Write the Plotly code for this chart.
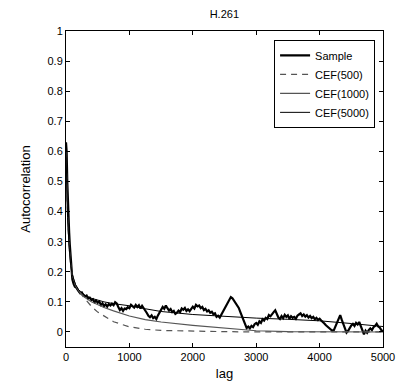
import plotly.graph_objects as go

# ---- data ----
sample_lag_early = [0, 10, 20, 30, 40, 50, 60, 70, 80, 90, 100, 120, 140, 160, 180]
sample_val_early = [0.63, 0.60, 0.50, 0.42, 0.38, 0.33, 0.29, 0.25, 0.21, 0.19, 0.175, 0.16, 0.15, 0.148, 0.14]

sample_lag_rest = list(range(200, 5001, 25))
sample_val_rest = [
    0.135, 0.128, 0.131, 0.122, 0.118, 0.121, 0.111, 0.114, 0.106, 0.109,
    0.099, 0.104, 0.097, 0.101, 0.090, 0.095, 0.086, 0.092, 0.084, 0.093,
    0.088, 0.094, 0.089, 0.099, 0.095, 0.083, 0.073, 0.079, 0.070, 0.078,
    0.076, 0.082, 0.079, 0.090, 0.086, 0.081, 0.090, 0.083, 0.089, 0.078,
    0.087, 0.080, 0.070, 0.063, 0.054, 0.049, 0.055, 0.046, 0.050, 0.043,
    0.055, 0.064, 0.075, 0.083, 0.077, 0.088, 0.079, 0.071, 0.076, 0.066,
    0.070, 0.060, 0.064, 0.071, 0.066, 0.078, 0.074, 0.080, 0.070, 0.075,
    0.069, 0.079, 0.084, 0.078, 0.090, 0.085, 0.088, 0.079, 0.083, 0.073,
    0.077, 0.068, 0.072, 0.064, 0.067, 0.059, 0.062, 0.050, 0.054, 0.048,
    0.058, 0.063, 0.076, 0.085, 0.098, 0.106, 0.116, 0.112, 0.104, 0.100,
    0.092, 0.080, 0.066, 0.052, 0.034, 0.020, 0.013, 0.018, 0.012, 0.020,
    0.016, 0.026, 0.030, 0.024, 0.035, 0.030, 0.042, 0.038, 0.047, 0.043,
    0.056, 0.052, 0.061, 0.066, 0.072, 0.058, 0.048, 0.043, 0.053, 0.046,
    0.057, 0.050, 0.055, 0.044, 0.052, 0.047, 0.050, 0.044, 0.054, 0.058,
    0.062, 0.053, 0.058, 0.051, 0.056, 0.048, 0.053, 0.046, 0.050, 0.042,
    0.047, 0.040, 0.044, 0.038, 0.034, 0.028, 0.022, 0.018, 0.012, 0.008,
    0.004, 0.006, 0.020, 0.032, 0.046, 0.056, 0.040, 0.026, 0.012, -0.002,
    0.004, 0.014, 0.022, 0.027, 0.020, 0.030, 0.025, 0.033, 0.020, 0.005,
    -0.008, 0.004, -0.003, 0.006, 0.012, 0.006, 0.016, 0.020, 0.027, 0.018,
    0.014, 0.006, 0.002,
]

cef_lag = [0, 10, 25, 50, 75, 100, 150, 200, 300, 400, 500, 600, 750, 1000,
           1250, 1500, 2000, 2500, 3000, 3500, 4000, 4500, 5000]
cef500 = [0.6, 0.5, 0.38, 0.28, 0.22, 0.19, 0.155, 0.135, 0.108, 0.085, 0.066, 0.052,
          0.034, 0.017, 0.009, 0.005, 0.002, 0.001, 0, 0, 0, 0, 0]
cef1000 = [0.6, 0.5, 0.38, 0.28, 0.22, 0.19, 0.155, 0.136, 0.114, 0.100, 0.090, 0.081,
           0.070, 0.053, 0.041, 0.033, 0.022, 0.012, 0.004, 0.001, 0, 0, 0]
cef5000 = [0.6, 0.5, 0.38, 0.28, 0.22, 0.19, 0.158, 0.140, 0.122, 0.112, 0.105, 0.100,
           0.094, 0.087, 0.077, 0.068, 0.058, 0.051, 0.046, 0.042, 0.037, 0.028, 0.018]

x_ticks = [0, 1000, 2000, 3000, 4000, 5000]
y_ticks = [0, 0.1, 0.2, 0.3, 0.4, 0.5, 0.6, 0.7, 0.8, 0.9, 1]
y_tick_text = ["0", "0.1", "0.2", "0.3", "0.4", "0.5", "0.6", "0.7", "0.8", "0.9", "1"]

sample_lag = sample_lag_early + sample_lag_rest
sample_val = sample_val_early + sample_val_rest

fig = go.Figure()
fig.add_trace(go.Scatter(x=sample_lag, y=sample_val, mode="lines", name="Sample",
                         line=dict(color="black", width=2.2)))
fig.add_trace(go.Scatter(x=cef_lag, y=cef500, mode="lines", name="CEF(500)",
                         line=dict(color="#555555", width=1.2, dash="6px,5px")))
fig.add_trace(go.Scatter(x=cef_lag, y=cef1000, mode="lines", name="CEF(1000)",
                         line=dict(color="#555555", width=1.1)))
fig.add_trace(go.Scatter(x=cef_lag, y=cef5000, mode="lines", name="CEF(5000)",
                         line=dict(color="black", width=1)))

axis_common = dict(showline=True, linecolor="black", linewidth=1, mirror="allticks",
                   ticks="inside", ticklen=4, tickcolor="black", showgrid=False,
                   zeroline=False, automargin=False,
                   tickfont=dict(size=11, color="black"))

fig.update_layout(
    width=405, height=385,
    margin=dict(l=66, r=22, t=31, b=38),
    paper_bgcolor="white", plot_bgcolor="white",
    font=dict(family="Liberation Sans, Arial, sans-serif", size=11, color="black"),
    title=dict(text="H.261", x=0.5539, xanchor="center", y=0.962, yanchor="middle",
               font=dict(size=11)),
    xaxis=dict(range=[0, 5000], tickvals=x_ticks, title=dict(text="lag", standoff=6),
               **axis_common),
    yaxis=dict(range=[-0.05, 1], tickvals=y_ticks, ticktext=y_tick_text,
               title=dict(text="Autocorrelation", standoff=13), **axis_common),
    legend=dict(x=0.975, y=0.972, xanchor="right", yanchor="top",
                bordercolor="black", borderwidth=1, bgcolor="white",
                font=dict(size=11), tracegroupgap=0, itemwidth=30),
    showlegend=True,
)

fig.write_html("out.html")
